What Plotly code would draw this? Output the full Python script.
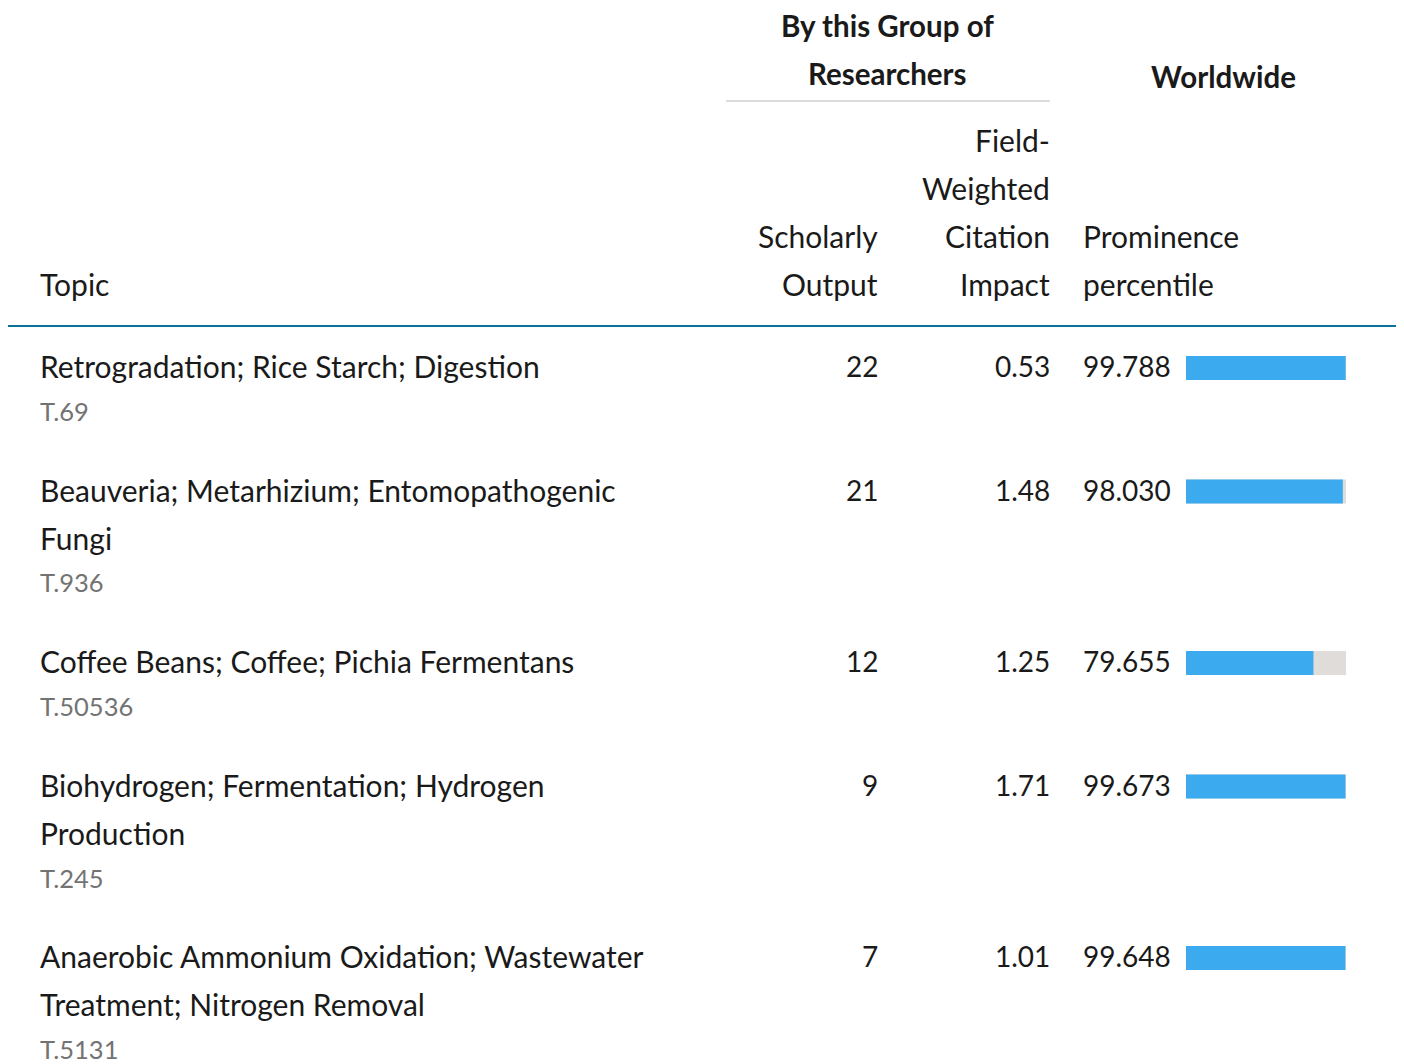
import plotly.graph_objects as go

# ---------------- data ----------------
topic_lines = [
    ["Retrogradation; Rice Starch; Digestion"],
    ["Beauveria; Metarhizium; Entomopathogenic", "Fungi"],
    ["Coffee Beans; Coffee; Pichia Fermentans"],
    ["Biohydrogen; Fermentation; Hydrogen", "Production"],
    ["Anaerobic Ammonium Oxidation; Wastewater", "Treatment; Nitrogen Removal"],
]
topic_codes = ["T.69", "T.936", "T.50536", "T.245", "T.5131"]
scholarly_output = [22, 21, 12, 9, 7]
fwci = [0.53, 1.48, 1.25, 1.71, 1.01]
prominence = [99.788, 98.030, 79.655, 99.673, 99.648]

# ---------------- layout helpers ----------------
W, H = 1404, 1064
OFF = 8  # page body margin
FONT = "Lato"
BODY = 30
NUM = 28
BOLD = 29.5
CODE = 25.5
LINE = 48


def px(x):
    return (x - OFF) / W


def py(y):
    return 1 - (y - OFF) / H


annotations = []


def text(s, x, y, anchor="left", size=BODY, color="#1a1a1a", bold=False):
    annotations.append(dict(
        text=f"<b>{s}</b>" if bold else s,
        x=px(x), y=py(y), xref="paper", yref="paper",
        xanchor=anchor, yanchor="middle", showarrow=False,
        borderpad=0, borderwidth=0,
        font=dict(family=FONT, size=size, color=color),
    ))


# header
text("By this Group of", 888, 26, "center", size=BOLD, bold=True)
text("Researchers", 888, 74, "center", size=BOLD, bold=True)
text("Worldwide", 1223, 76, "center", size=BOLD, bold=True)
text("Topic", 40, 284)
for i, w in enumerate(["Scholarly", "Output"]):
    text(w, 878, 236 + i * LINE, "right")
for i, w in enumerate(["Field-", "Weighted", "Citation", "Impact"]):
    text(w, 1050, 140 + i * LINE, "right")
for i, w in enumerate(["Prominence", "percentile"]):
    text(w, 1083, 236 + i * LINE)

# rows
row_centers = []
start = 366
for lines, code, so, fw, pr in zip(topic_lines, topic_codes, scholarly_output, fwci, prominence):
    row_centers.append(start + 2 - OFF)
    for j, ln in enumerate(lines):
        text(ln, 40, start + j * LINE)
    code_y = start + LINE * (len(lines) - 1) + 45
    text(code, 40, code_y, size=CODE, color="#737373")
    text(str(so), 878, start, "right", size=NUM)
    text(f"{fw:.2f}", 1050, start, "right", size=NUM)
    text(f"{pr:.3f}", 1083, start, size=NUM)
    start = code_y + 78.5

fig = go.Figure()
fig.add_trace(go.Bar(
    x=[100] * len(prominence), y=row_centers, orientation="h",
    width=24, marker=dict(color="#E0DCDA", line=dict(width=0)),
    xaxis="x", yaxis="y", hoverinfo="skip",
))
fig.add_trace(go.Bar(
    x=prominence, y=row_centers, orientation="h",
    width=24, marker=dict(color="#3BAAEE", line=dict(width=0)),
    xaxis="x", yaxis="y",
))

shapes = [
    dict(type="line", xref="paper", yref="paper", x0=px(726), x1=px(1050),
         y0=py(101), y1=py(101), line=dict(color="#DCDCDC", width=2)),
    dict(type="line", xref="paper", yref="paper", x0=px(7), x1=px(1396),
         y0=py(326), y1=py(326), line=dict(color="#0A7398", width=2)),
]

fig.update_layout(
    width=W, height=H,
    margin=dict(l=0, r=0, t=0, b=0),
    paper_bgcolor="white", plot_bgcolor="white",
    showlegend=False, barmode="overlay",
    xaxis=dict(domain=[px(1186), px(1346)], range=[0, 100], visible=False, fixedrange=True),
    yaxis=dict(domain=[0, 1], range=[H, 0], visible=False, fixedrange=True),
    annotations=annotations, shapes=shapes,
)

fig.write_html("out.html", config={"displayModeBar": False})
